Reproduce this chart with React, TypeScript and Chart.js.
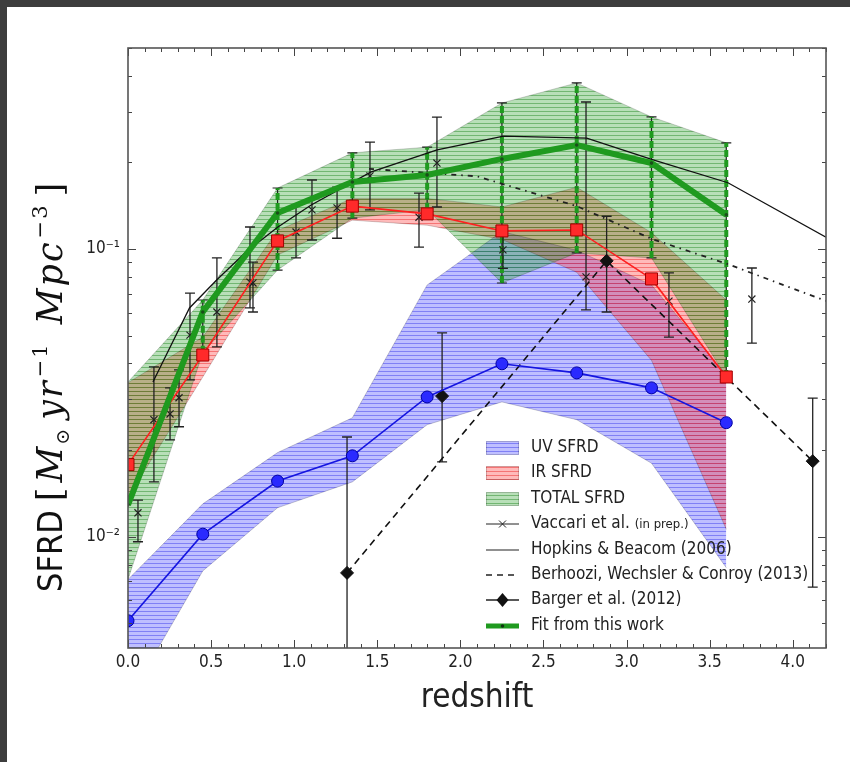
import React, { useEffect, useRef } from 'react';
import { Chart, registerables } from 'chart.js';
Chart.register(...registerables);

// ---------- data ----------
const zGrid = [0, 0.45, 0.9, 1.35, 1.8, 2.25, 2.7, 3.15, 3.6];
const uvSfrd = [0.0051, 0.0102, 0.0156, 0.0191, 0.0306, 0.0399, 0.0371, 0.0329, 0.0249];
const uvLow = [0.0027, 0.0076, 0.0126, 0.0155, 0.0245, 0.0294, 0.0255, 0.018, 0.0078];
const uvHigh = [0.0071, 0.013, 0.0196, 0.0259, 0.075, 0.115, 0.099, 0.075, 0.0365];
const irSfrd = [0.0178, 0.0428, 0.1067, 0.141, 0.1325, 0.1156, 0.1165, 0.0787, 0.0359];
const irLow = [0.0137, 0.0359, 0.0953, 0.126, 0.121, 0.108, 0.083, 0.041, 0.0106];
const irHigh = [0.0343, 0.0494, 0.116, 0.15, 0.15, 0.14, 0.164, 0.114, 0.0665];
const totalSfrd = [0.0129, 0.0604, 0.1334, 0.171, 0.181, 0.2057, 0.23, 0.199, 0.1315];
const totalLow = [0.0071, 0.0436, 0.0845, 0.128, 0.137, 0.0762, 0.0969, 0.0931, 0.0359];
const totalHigh = [0.0345, 0.0665, 0.163, 0.216, 0.226, 0.322, 0.378, 0.288, 0.234];

const vaccariZ = [0.06, 0.156, 0.253, 0.307, 0.373, 0.535, 0.734, 0.752, 1.011, 1.107, 1.258, 1.456, 1.751, 1.859, 2.256, 2.756, 3.255, 3.754];
const vaccariSfrd = [0.0121, 0.0255, 0.0267, 0.0304, 0.0502, 0.0604, 0.0767, 0.0762, 0.1146, 0.1368, 0.139, 0.1795, 0.129, 0.199, 0.0993, 0.08, 0.0659, 0.067];
const vaccariLow = [0.0096, 0.0155, 0.0217, 0.0241, 0.0351, 0.0457, 0.0624, 0.0604, 0.0931, 0.1075, 0.109, 0.1368, 0.1016, 0.14, 0.0857, 0.0614, 0.0494, 0.0471];
const vaccariHigh = [0.0134, 0.0389, 0.0329, 0.038, 0.0703, 0.0931, 0.1193, 0.0901, 0.142, 0.1738, 0.164, 0.2355, 0.1565, 0.2875, 0.116, 0.3245, 0.0826, 0.0859];

const hopkinsZ = [0.15, 0.37, 0.535, 0.71, 0.9, 1.1, 1.46, 1.86, 2.26, 2.76, 3.16, 3.61, 4.2];
const hopkinsSfrd = [0.0345, 0.0624, 0.0782, 0.0977, 0.119, 0.142, 0.185, 0.221, 0.247, 0.243, 0.204, 0.17, 0.11];

const behrooziZ = [1.45, 2.1, 2.7, 3.16, 3.6, 4.2];
const behrooziSfrd = [0.19, 0.179, 0.141, 0.108, 0.089, 0.066];

const bargerZ = [1.318, 1.89, 2.88, 4.12];
const bargerSfrd = [0.00748, 0.0308, 0.091, 0.0183];
const bargerLow = [0.003, 0.0182, 0.0604, 0.00668];
const bargerHigh = [0.0222, 0.0511, 0.13, 0.0303];

const dashedZ = [1.318, 2.88, 4.12];
const dashedSfrd = [0.00748, 0.091, 0.0183];

const xTicks = [0, 0.5, 1, 1.5, 2, 2.5, 3, 3.5, 4];
const legendLabels = [
  'UV SFRD',
  'IR SFRD',
  'TOTAL SFRD',
  'Vaccari et al.',
  'Hopkins & Beacom (2006)',
  'Berhoozi, Wechsler & Conroy (2013)',
  'Barger et al. (2012)',
  'Fit from this work',
];
const vaccariNote = '(in prep.)';
const xTitle = 'redshift';

// ---------- helpers ----------
const SANS = '"DejaVu Sans Condensed", "DejaVu Sans", sans-serif';
const SERIF = '"DejaVu Serif", serif';

const pts = (xs: number[], ys: number[]) => xs.map((x, i) => ({ x, y: ys[i] }));

function mkPattern(base: string, stripe: string) {
  const c = document.createElement('canvas');
  c.width = 4;
  c.height = 4;
  const g = c.getContext('2d')!;
  g.fillStyle = base;
  g.fillRect(0, 0, 4, 4);
  g.fillStyle = stripe;
  g.fillRect(0, 3, 4, 1);
  return g.createPattern(c, 'repeat')!;
}

export default function App() {
  const ref = useRef<HTMLCanvasElement>(null);

  useEffect(() => {
    const canvas = ref.current!;
    const patBlue = mkPattern('rgba(60,60,255,0.33)', 'rgba(40,40,230,0.42)');
    const patRed = mkPattern('rgba(255,40,40,0.32)', 'rgba(230,20,20,0.42)');
    const patGreen = mkPattern('rgba(20,150,20,0.30)', 'rgba(10,120,10,0.40)');

    const bandEdge = 'rgba(0,0,0,0.18)';

    const errorBars = {
      id: 'errorBars',
      beforeDatasetsDraw(chart: any) {
        const { ctx, chartArea: a } = chart;
        const xs = chart.scales.x;
        const ys = chart.scales.y;
        ctx.save();
        ctx.beginPath();
        ctx.rect(a.left, a.top, a.right - a.left, a.bottom - a.top);
        ctx.clip();
        const bar = (z: number, lo: number, hi: number, cap: number) => {
          const px = xs.getPixelForValue(z);
          const y1 = ys.getPixelForValue(lo);
          const y2 = ys.getPixelForValue(hi);
          ctx.beginPath();
          ctx.moveTo(px, y1);
          ctx.lineTo(px, y2);
          ctx.moveTo(px - cap, y1);
          ctx.lineTo(px + cap, y1);
          ctx.moveTo(px - cap, y2);
          ctx.lineTo(px + cap, y2);
          ctx.stroke();
        };
        for (let i = 1; i < zGrid.length; i++) {
          ctx.strokeStyle = '#222';
          ctx.lineWidth = 1.2;
          ctx.setLineDash([]);
          bar(zGrid[i], totalLow[i], totalHigh[i], 5);
          const px = xs.getPixelForValue(zGrid[i]);
          ctx.strokeStyle = '#1f9a1f';
          ctx.lineWidth = 4;
          ctx.setLineDash([7, 3]);
          ctx.beginPath();
          ctx.moveTo(px, ys.getPixelForValue(totalLow[i]));
          ctx.lineTo(px, ys.getPixelForValue(totalHigh[i]));
          ctx.stroke();
        }
        ctx.setLineDash([]);
        ctx.strokeStyle = '#222';
        ctx.lineWidth = 1.3;
        for (let i = 0; i < vaccariZ.length; i++) bar(vaccariZ[i], vaccariLow[i], vaccariHigh[i], 5);
        for (let i = 0; i < bargerZ.length; i++) bar(bargerZ[i], bargerLow[i], bargerHigh[i], 5);
        ctx.restore();
      },
    };

    const decor = {
      id: 'decor',
      afterDraw(chart: any) {
        const { ctx, chartArea: a } = chart;
        const xs = chart.scales.x;
        const ys = chart.scales.y;
        ctx.save();
        // inward ticks
        ctx.strokeStyle = '#444';
        ctx.lineWidth = 1;
        ctx.beginPath();
        for (let k = 0; k <= 42; k++) {
          const v = k / 10;
          const px = Math.round(xs.getPixelForValue(v)) + 0.5;
          const len = k % 5 === 0 ? 8 : 4;
          ctx.moveTo(px, a.bottom);
          ctx.lineTo(px, a.bottom - len);
          ctx.moveTo(px, a.top);
          ctx.lineTo(px, a.top + len);
        }
        for (let e = -3; e <= -1; e++) {
          for (let m = 1; m <= 9; m++) {
            const v = m * Math.pow(10, e);
            if (v < ys.min || v > ys.max) continue;
            const py = Math.round(ys.getPixelForValue(v)) + 0.5;
            const len = m === 1 ? 8 : 4;
            ctx.moveTo(a.left, py);
            ctx.lineTo(a.left + len, py);
            ctx.moveTo(a.right, py);
            ctx.lineTo(a.right - len, py);
          }
        }
        ctx.stroke();
        // frame
        ctx.strokeStyle = '#555';
        ctx.lineWidth = 1.6;
        ctx.strokeRect(a.left, a.top, a.right - a.left, a.bottom - a.top);

        // x title
        ctx.fillStyle = '#222';
        ctx.font = `33px ${SANS}`;
        ctx.textAlign = 'center';
        ctx.textBaseline = 'alphabetic';
        ctx.fillText(xTitle, (a.left + a.right) / 2, 707);

        // y title (rotated)
        ctx.save();
        ctx.translate(62, 592);
        ctx.rotate(-Math.PI / 2);
        ctx.textAlign = 'left';
        ctx.fillStyle = '#111';
        ctx.font = `34px ${SANS}`;
        ctx.fillText('SFRD', 0, 0);
        let x = ctx.measureText('SFRD').width + 9;
        const s = 35;
        const parts: [string, string, number, number][] = [
          ['[', `${s}px ${SERIF}`, 0, 3],
          ['M', `italic ${s}px ${SERIF}`, 0, 0],
          ['⊙', `${Math.round(s * 0.55)}px ${SERIF}`, s * 0.2, 7],
          ['yr', `italic ${s}px ${SERIF}`, 0, 2],
          ['−1', `${Math.round(s * 0.6)}px ${SERIF}`, -s * 0.42, 18],
          ['Mpc', `italic ${s}px ${SERIF}`, 0, 2],
          ['−3', `${Math.round(s * 0.6)}px ${SERIF}`, -s * 0.42, 7],
          [']', `${s}px ${SERIF}`, 0, 0],
        ];
        (ctx as any).letterSpacing = '2px';
        parts.forEach(([t, f, dy, gap]) => {
          ctx.font = f;
          ctx.fillText(t, x, dy);
          x += ctx.measureText(t).width + gap;
        });
        (ctx as any).letterSpacing = '0px';
        ctx.restore();

        // legend
        const rows = [448, 473, 499, 524, 550, 575, 600, 626];
        const hx0 = 486;
        const hx1 = 519;
        const tx = 531;
        ctx.textAlign = 'left';
        ctx.textBaseline = 'middle';
        rows.forEach((ry, i) => {
          ctx.setLineDash([]);
          if (i < 3) {
            const pat = [patBlue, patRed, patGreen][i];
            ctx.fillStyle = pat;
            ctx.fillRect(hx0, ry - 7, hx1 - hx0, 14);
            ctx.strokeStyle = bandEdge;
            ctx.lineWidth = 1;
            ctx.strokeRect(hx0 + 0.5, ry - 6.5, hx1 - hx0 - 1, 13);
          } else if (i === 3) {
            ctx.strokeStyle = '#222';
            ctx.lineWidth = 1;
            ctx.beginPath();
            ctx.moveTo(hx0, ry);
            ctx.lineTo(hx1, ry);
            const c = (hx0 + hx1) / 2;
            ctx.moveTo(c - 3.5, ry - 3.5);
            ctx.lineTo(c + 3.5, ry + 3.5);
            ctx.moveTo(c - 3.5, ry + 3.5);
            ctx.lineTo(c + 3.5, ry - 3.5);
            ctx.stroke();
          } else if (i === 4) {
            ctx.strokeStyle = '#222';
            ctx.lineWidth = 1.2;
            ctx.beginPath();
            ctx.moveTo(hx0, ry);
            ctx.lineTo(hx1, ry);
            ctx.stroke();
          } else if (i === 5) {
            ctx.strokeStyle = '#222';
            ctx.lineWidth = 1.5;
            ctx.setLineDash([6, 5]);
            ctx.beginPath();
            ctx.moveTo(hx0, ry);
            ctx.lineTo(hx1, ry);
            ctx.stroke();
            ctx.setLineDash([]);
          } else if (i === 6) {
            ctx.strokeStyle = '#222';
            ctx.lineWidth = 1.5;
            ctx.beginPath();
            ctx.moveTo(hx0, ry);
            ctx.lineTo(hx1, ry);
            ctx.stroke();
            const c = (hx0 + hx1) / 2;
            ctx.fillStyle = '#111';
            ctx.beginPath();
            ctx.moveTo(c, ry - 7);
            ctx.lineTo(c + 6, ry);
            ctx.lineTo(c, ry + 7);
            ctx.lineTo(c - 6, ry);
            ctx.closePath();
            ctx.fill();
          } else {
            ctx.strokeStyle = '#1f9a1f';
            ctx.lineWidth = 5;
            ctx.beginPath();
            ctx.moveTo(hx0, ry);
            ctx.lineTo(hx1, ry);
            ctx.stroke();
            ctx.fillStyle = '#113311';
            ctx.beginPath();
            ctx.arc((hx0 + hx1) / 2, ry, 1.8, 0, Math.PI * 2);
            ctx.fill();
          }
          ctx.fillStyle = '#222';
          ctx.font = `17px ${SANS}`;
          ctx.fillText(legendLabels[i], tx, ry);
          if (i === 3) {
            const w = ctx.measureText(legendLabels[i] + ' ').width;
            ctx.font = `13px ${SANS}`;
            ctx.fillText(vaccariNote, tx + w, ry + 1);
          }
        });
        ctx.restore();
      },
    };

    const lineDs = (label: string, xs: number[], ys: number[], extra: any) => ({
      label,
      data: pts(xs, ys),
      showLine: true,
      fill: false,
      pointRadius: 0,
      borderWidth: 1.2,
      tension: 0,
      ...extra,
    });

    const chart = new Chart(canvas, {
      type: 'line',
      data: {
        datasets: [
          { label: 'totalLow', data: pts(zGrid, totalLow), order: 10, pointRadius: 0, borderWidth: 1, borderColor: bandEdge, fill: false },
          { label: 'totalHigh', data: pts(zGrid, totalHigh), order: 10, pointRadius: 0, borderWidth: 1, borderColor: bandEdge, fill: 0, backgroundColor: patGreen },
          { label: 'irLow', data: pts(zGrid, irLow), order: 10, pointRadius: 0, borderWidth: 1, borderColor: bandEdge, fill: false },
          { label: 'irHigh', data: pts(zGrid, irHigh), order: 10, pointRadius: 0, borderWidth: 1, borderColor: bandEdge, fill: 2, backgroundColor: patRed },
          { label: 'uvLow', data: pts(zGrid, uvLow), order: 10, pointRadius: 0, borderWidth: 1, borderColor: bandEdge, fill: false },
          { label: 'uvHigh', data: pts(zGrid, uvHigh), order: 10, pointRadius: 0, borderWidth: 1, borderColor: bandEdge, fill: 4, backgroundColor: patBlue },
          lineDs('Fit from this work', zGrid, totalSfrd, {
            order: 0, borderColor: '#1f9a1f', borderWidth: 6, pointRadius: 1.8, pointBackgroundColor: '#1a4d1a', pointBorderWidth: 0,
          }),
          lineDs('UV SFRD', zGrid, uvSfrd, {
            order: 1, borderColor: '#1515e0', borderWidth: 1.6, pointRadius: 6, pointStyle: 'circle',
            pointBackgroundColor: '#2a2aff', pointBorderColor: '#0000a0', pointBorderWidth: 1,
          }),
          lineDs('IR SFRD', zGrid, irSfrd, {
            order: 2, borderColor: '#ff2020', borderWidth: 1.6, pointRadius: 8.5, pointStyle: 'rect',
            pointBackgroundColor: '#ff2a2a', pointBorderColor: '#a00000', pointBorderWidth: 1,
          }),
          lineDs('Barger et al. (2012)', bargerZ, bargerSfrd, {
            order: 3, showLine: false, pointRadius: 6.5, pointStyle: 'rectRot',
            pointBackgroundColor: '#111', pointBorderColor: '#111', pointBorderWidth: 1,
          }),
          lineDs('Vaccari et al.', vaccariZ, vaccariSfrd, {
            order: 4, showLine: false, pointRadius: 5, pointStyle: 'crossRot',
            pointBorderColor: '#222', pointBorderWidth: 1.2,
          }),
          lineDs('Berhoozi dashed', dashedZ, dashedSfrd, {
            order: 5, borderColor: '#111', borderWidth: 1.6, borderDash: [7, 5],
          }),
          lineDs('Behroozi dash-dot', behrooziZ, behrooziSfrd, {
            order: 6, borderColor: '#222', borderWidth: 1.8, borderDash: [5, 5, 1.5, 5],
          }),
          lineDs('Hopkins & Beacom (2006)', hopkinsZ, hopkinsSfrd, {
            order: 7, borderColor: '#111', borderWidth: 1.3,
          }),
        ],
      },
      options: {
        responsive: false,
        animation: false,
        events: [],
        layout: { padding: { top: 48, right: 24, left: 0, bottom: 0 } },
        plugins: {
          legend: { display: false },
          tooltip: { enabled: false },
          filler: { drawTime: 'beforeDatasetsDraw' },
        },
        scales: {
          x: {
            type: 'linear',
            min: 0,
            max: 4.2,
            grid: { display: false, drawTicks: false },
            border: { display: false },
            afterFit: (s: any) => { s.height = 114; },
            afterBuildTicks: (s: any) => { s.ticks = xTicks.map((v) => ({ value: v })); },
            ticks: {
              font: { family: SANS, size: 17 },
              color: '#222',
              padding: 4,
              maxRotation: 0,
              callback: (v: any) => Number(v).toFixed(1),
            },
          },
          y: {
            type: 'logarithmic',
            min: 0.0041,
            max: 0.5,
            grid: { display: false, drawTicks: false },
            border: { display: false },
            afterFit: (s: any) => { s.width = 128; },
            afterBuildTicks: (s: any) => { s.ticks = [{ value: 0.01 }, { value: 0.1 }]; },
            ticks: {
              font: { family: SANS, size: 17 },
              color: '#222',
              padding: 8,
              callback: (v: any) => (Math.abs(v - 0.1) < 1e-9 ? '10⁻¹' : Math.abs(v - 0.01) < 1e-9 ? '10⁻²' : ''),
            },
          },
        },
      },
      plugins: [errorBars, decor],
    } as any);
    return () => chart.destroy();
  }, []);

  return (
    <div style={{ position: 'absolute', left: 0, top: 0, width: 850, height: 762, background: '#3d3d3d', overflow: 'hidden' }}>
      <div style={{ position: 'absolute', left: 7, top: 7, right: 0, bottom: 0, background: '#ffffff' }} />
      <canvas ref={ref} width={850} height={762} style={{ position: 'absolute', left: 0, top: 0 }} />
    </div>
  );
}
